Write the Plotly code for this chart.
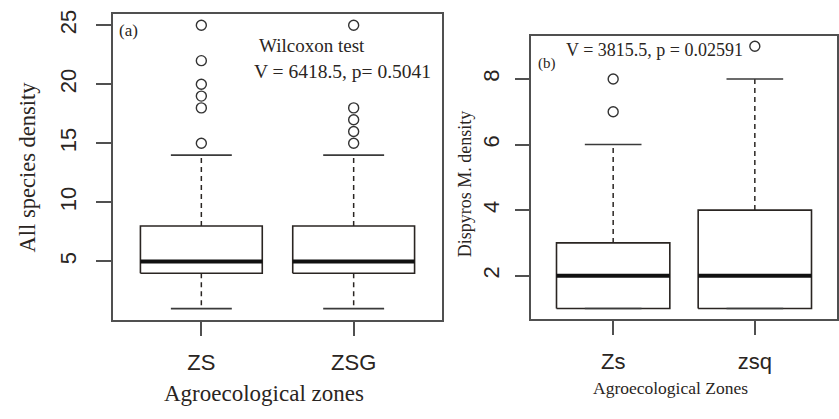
import plotly.graph_objects as go

# ---------------- data ----------------
zones_a = ["ZS", "ZSG"]
a_lower = [1, 1]
a_q1 = [4, 4]
a_median = [5, 5]
a_q3 = [8, 8]
a_upper = [14, 14]
a_outliers = [[15, 18, 19, 20, 22, 25], [15, 16, 17, 18, 25]]
a_yticks = [5, 10, 15, 20, 25]

zones_b = ["Zs", "zsq"]
b_lower = [1, 1]
b_q1 = [1, 1]
b_median = [2, 2]
b_q3 = [3, 4]
b_upper = [6, 8]
b_outliers = [[7, 8], [9]]
b_yticks = [2, 4, 6, 8]

# ---------------- styles ----------------
W, H = 839, 419
INK = "#2a2522"
FRAME = "#505050"
SANS = "Liberation Sans, Arial, sans-serif"
SERIF = "Liberation Serif, Times New Roman, serif"
BOX_HALF = 0.4
CAP_HALF = 0.2

fig = go.Figure()


def add_boxes(xa, ya, lower, q1, med, q3, upper, outliers):
    for i in range(len(q1)):
        x = i + 1
        # box
        fig.add_trace(go.Scatter(
            x=[x - BOX_HALF, x + BOX_HALF, x + BOX_HALF, x - BOX_HALF, x - BOX_HALF],
            y=[q1[i], q1[i], q3[i], q3[i], q1[i]],
            mode="lines", line=dict(color=INK, width=1.6),
            fill="toself", fillcolor="white",
            xaxis=xa, yaxis=ya, showlegend=False, hoverinfo="skip"))
        # whiskers (dashed)
        fig.add_trace(go.Scatter(
            x=[x, x, None, x, x], y=[q3[i], upper[i], None, q1[i], lower[i]],
            mode="lines", line=dict(color=INK, width=1.5, dash="5px,4px"),
            xaxis=xa, yaxis=ya, showlegend=False, hoverinfo="skip"))
        # caps
        fig.add_trace(go.Scatter(
            x=[x - CAP_HALF, x + CAP_HALF, None, x - CAP_HALF, x + CAP_HALF],
            y=[upper[i], upper[i], None, lower[i], lower[i]],
            mode="lines", line=dict(color="#3a3a3a", width=1.6),
            xaxis=xa, yaxis=ya, showlegend=False, hoverinfo="skip"))
        # median
        fig.add_trace(go.Scatter(
            x=[x - BOX_HALF, x + BOX_HALF], y=[med[i], med[i]],
            mode="lines", line=dict(color="#111111", width=4),
            xaxis=xa, yaxis=ya, showlegend=False, hoverinfo="skip"))
        # outliers
        fig.add_trace(go.Scatter(
            x=[x] * len(outliers[i]), y=outliers[i], mode="markers",
            marker=dict(symbol="circle-open", size=10, color="#333333",
                        line=dict(width=1.4)),
            xaxis=xa, yaxis=ya, showlegend=False, hoverinfo="skip"))


add_boxes("x", "y", a_lower, a_q1, a_median, a_q3, a_upper, a_outliers)
add_boxes("x2", "y2", b_lower, b_q1, b_median, b_q3, b_upper, b_outliers)

axis_common = dict(showline=True, mirror=True, linecolor=FRAME, linewidth=1.6,
                   showgrid=False, zeroline=False, ticks="outside",
                   tickcolor=FRAME, tickwidth=1.6,
                   tickfont=dict(family=SANS, size=22, color=INK))

fig.update_layout(
    width=W, height=H,
    margin=dict(l=0, r=0, t=0, b=0),
    paper_bgcolor="white", plot_bgcolor="white",
    xaxis=dict(domain=[113 / W, 442 / W], range=[0.42, 2.58],
               tickvals=[1, 2], ticktext=zones_a, ticklen=14,
               ticklabelstandoff=8, anchor="y", **axis_common),
    yaxis=dict(domain=[1 - 319 / H, 1 - 10 / H], range=[0.04, 25.96],
               tickvals=a_yticks, ticklen=15, tickangle=-90,
               ticklabelstandoff=11, anchor="x", **axis_common),
    xaxis2=dict(domain=[531 / W, 837 / W], range=[0.42, 2.58],
                tickvals=[1, 2], ticktext=zones_b, ticklen=14,
                ticklabelstandoff=8, anchor="y2", **axis_common),
    yaxis2=dict(domain=[1 - 318 / H, 1 - 32 / H], range=[0.68, 9.32],
                tickvals=b_yticks, ticklen=14, tickangle=-90,
                ticklabelstandoff=7, anchor="x2", **axis_common),
)


def note(text, px, py, size, angle=0, xanchor="center", family=SERIF):
    fig.add_annotation(text=text, x=px / W, y=1 - py / H, xref="paper", yref="paper",
                       xanchor=xanchor, yanchor="middle", showarrow=False,
                       textangle=angle, font=dict(family=family, size=size, color=INK))


note("(a)", 128, 27, 17)
note("Wilcoxon test", 312, 42, 19)
note("V = 6418.5, p= 0.5041", 252, 68, 19.5, xanchor="left")
note("(b)", 547, 60, 15)
note("V = 3815.5, p = 0.02591", 564, 46, 18, xanchor="left")
note("Agroecological zones", 264, 393, 23)
note("All species density", 27, 165, 22.5, angle=-90)
note("Agroecological Zones", 670, 388, 17.5)
note("Dispyros M. density", 465, 182, 18, angle=-90)

fig.write_html("out.html")
